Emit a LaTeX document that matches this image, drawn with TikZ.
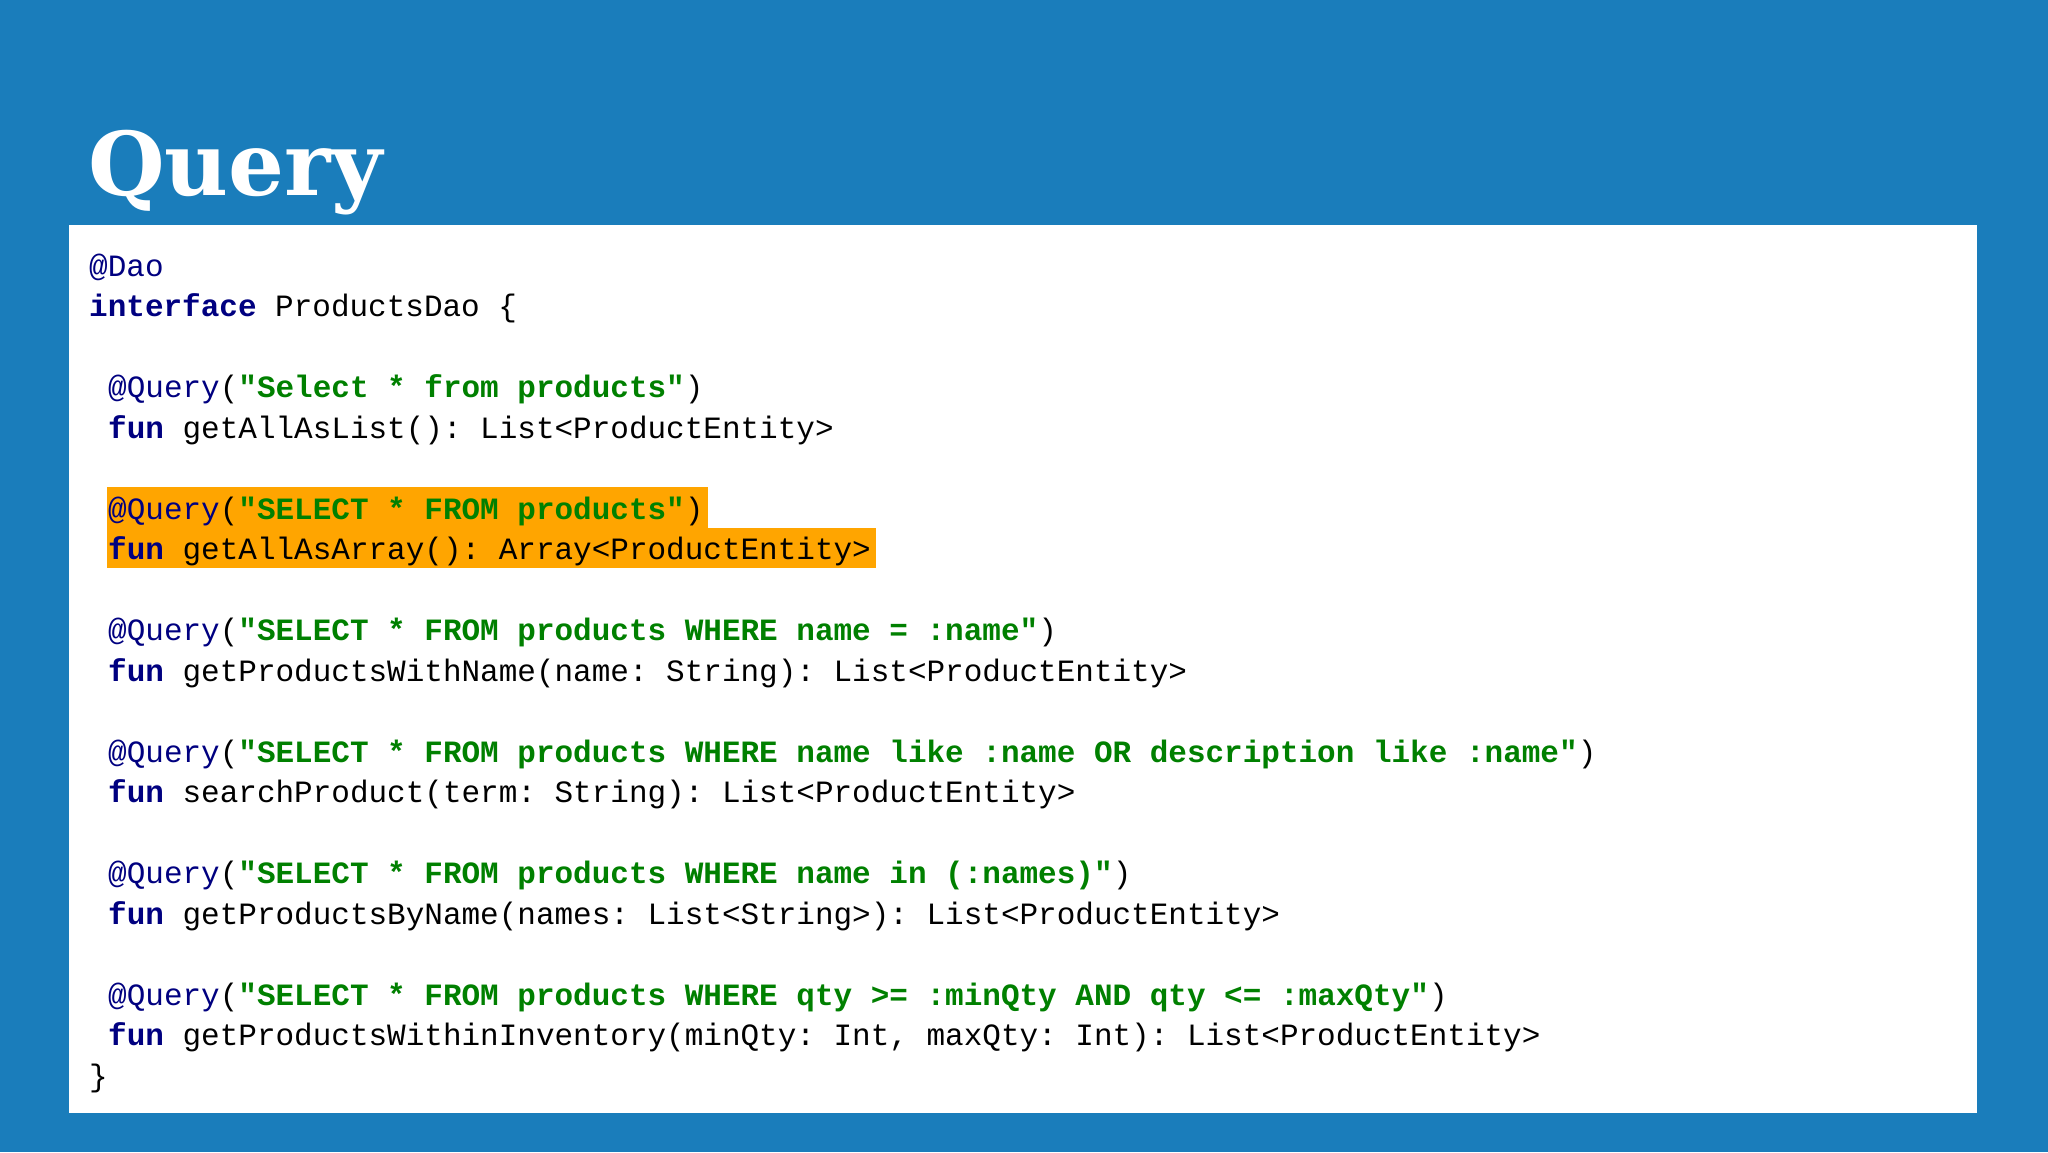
\documentclass[tikz,border=0pt]{standalone}
\usepackage{fontspec}
\setmonofont{Liberation Mono}
\newfontfamily\titlefont{DejaVu Serif}
\definecolor{bgblue}{HTML}{1A7DBB}
\definecolor{kwnavy}{HTML}{000080}
\definecolor{strgreen}{HTML}{008000}
\definecolor{hl}{HTML}{FFA500}
\newcommand{\kwd}[1]{\textcolor{kwnavy}{\bfseries #1}}
\newcommand{\ann}[1]{\textcolor{kwnavy}{#1}}
\newcommand{\strg}[1]{\textcolor{strgreen}{\bfseries #1}}
\tikzset{codeline/.style={anchor=base west,inner sep=0pt,font=\ttfamily\fontsize{31}{31}\selectfont,text=black}}
\begin{document}
\begin{tikzpicture}[x=1pt,y=-1pt]
\useasboundingbox (0,0) rectangle (2048,1152);
\fill[bgblue] (0,0) rectangle (2048,1152);
\fill[white] (69,225) rectangle (1977,1113);
\fill[hl] (107,487) rectangle (708,528);
\fill[hl] (107,528) rectangle (876,568);
\node[anchor=base west,inner sep=0pt,text=white,font=\titlefont\bfseries\fontsize{88}{88}\selectfont] (title) at (88,195) {Query};
\def\bl#1{276+40.5*#1}
\node[codeline] (l0) at (89,{\bl{0}}) {\ann{@Dao}};
\node[codeline] (l1) at (89,{\bl{1}}) {\kwd{interface} ProductsDao \{};
\node[codeline] (l3) at (108,{\bl{3}}) {\ann{@Query}(\strg{"Select * from products"})};
\node[codeline] (l4) at (108,{\bl{4}}) {\kwd{fun} getAllAsList(): List<ProductEntity>};
\node[codeline] (l6) at (108,{\bl{6}}) {\ann{@Query}(\strg{"SELECT * FROM products"})};
\node[codeline] (l7) at (108,{\bl{7}}) {\kwd{fun} getAllAsArray(): Array<ProductEntity>};
\node[codeline] (l9) at (108,{\bl{9}}) {\ann{@Query}(\strg{"SELECT * FROM products WHERE name = :name"})};
\node[codeline] (l10) at (108,{\bl{10}}) {\kwd{fun} getProductsWithName(name: String): List<ProductEntity>};
\node[codeline] (l12) at (108,{\bl{12}}) {\ann{@Query}(\strg{"SELECT * FROM products WHERE name like :name OR description like :name"})};
\node[codeline] (l13) at (108,{\bl{13}}) {\kwd{fun} searchProduct(term: String): List<ProductEntity>};
\node[codeline] (l15) at (108,{\bl{15}}) {\ann{@Query}(\strg{"SELECT * FROM products WHERE name in (:names)"})};
\node[codeline] (l16) at (108,{\bl{16}}) {\kwd{fun} getProductsByName(names: List<String>): List<ProductEntity>};
\node[codeline] (l18) at (108,{\bl{18}}) {\ann{@Query}(\strg{"SELECT * FROM products WHERE qty >= :minQty AND qty <= :maxQty"})};
\node[codeline] (l19) at (108,{\bl{19}}) {\kwd{fun} getProductsWithinInventory(minQty: Int, maxQty: Int): List<ProductEntity>};
\node[codeline] (l20) at (89,{\bl{20}}) {\}};
\end{tikzpicture}
\end{document}
